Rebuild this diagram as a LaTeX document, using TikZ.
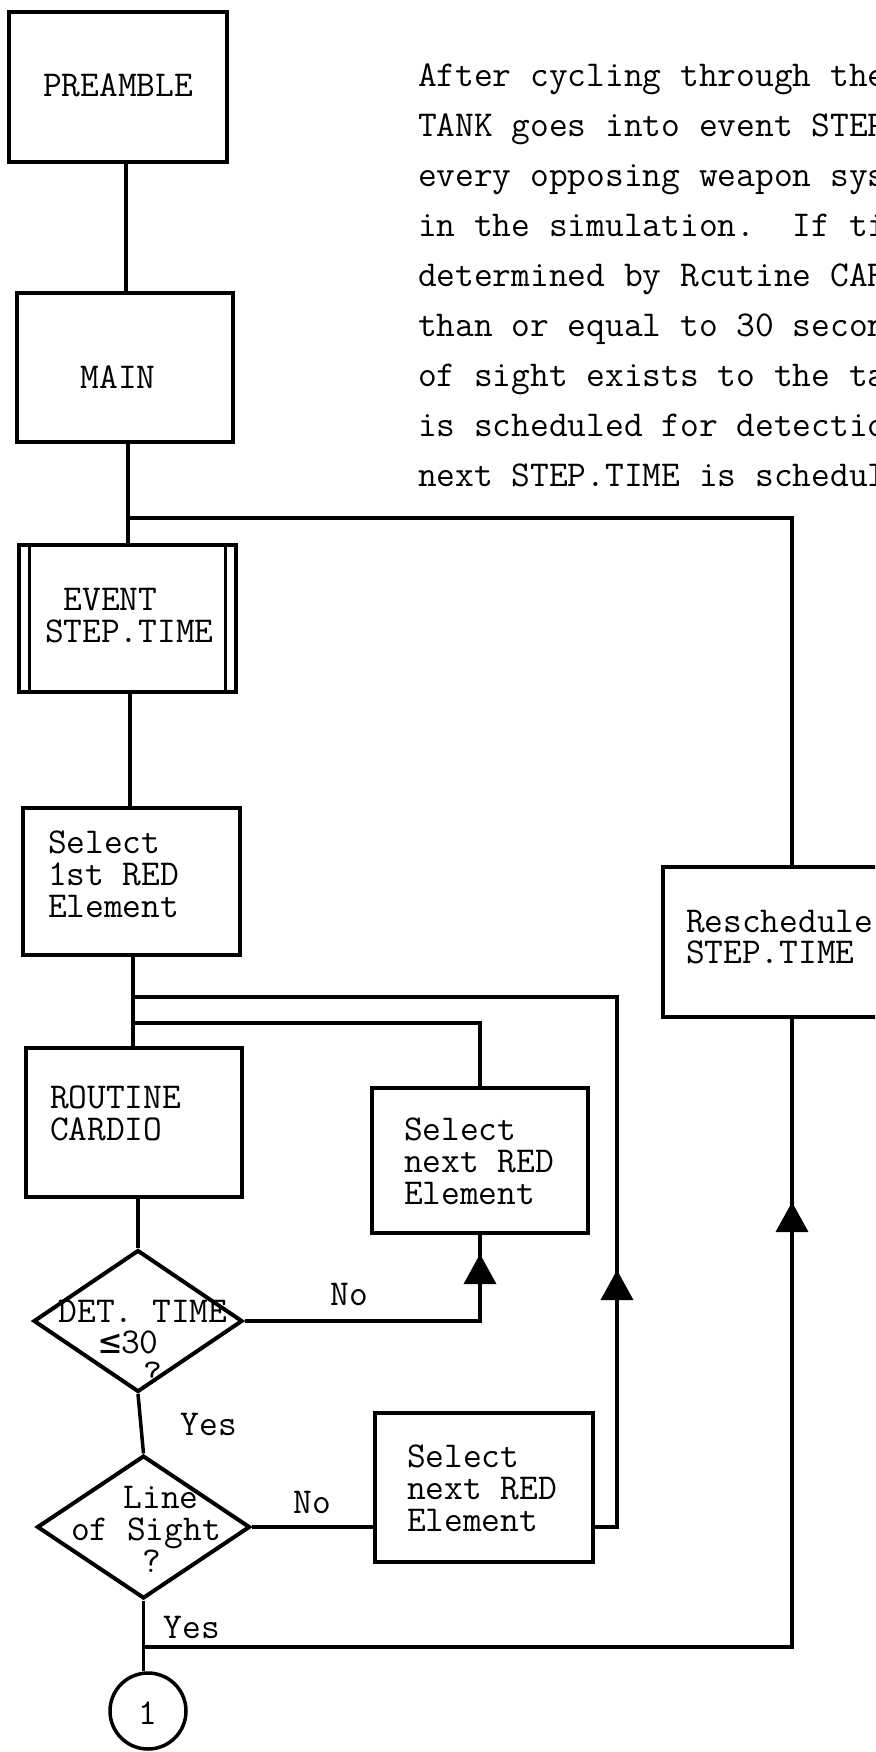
\documentclass[tikz,border=0pt]{standalone}
\usepackage{fontspec}
\newfontfamily\dvm{DejaVu Sans Mono}
\usetikzlibrary{arrows.meta,shapes.geometric,decorations.markings}
\newcommand\twfont{\fontsize{36.4}{32}\ttfamily\addfontfeature{FakeBold=3}\frenchspacing}
% text block, left aligned: #1 x offset of text start from node centre, #2 first baseline below centre, #3 baselineskip
\newcommand\txl[4]{\makebox[0pt][l]{\hspace*{#1pt}\raisebox{-#2pt}[0pt][0pt]{\vtop{\baselineskip=#3pt\lineskiplimit=-100pt\lineskip=0pt\halign{##\hfil\cr#4\crcr}}}}}
% text block, centred lines
\newcommand\txc[4]{\makebox[0pt][l]{\hspace*{#1pt}\makebox[0pt][c]{\raisebox{-#2pt}[0pt][0pt]{\vtop{\baselineskip=#3pt\lineskiplimit=-100pt\lineskip=0pt\halign{\hfil##\hfil\cr#4\crcr}}}}}}
\begin{document}
\begin{tikzpicture}[x=1pt,y=-1pt,line width=3.5pt,
  font=\twfont,
  box/.style={draw,rectangle,line width=4pt,inner sep=0pt},
  dec/.style={draw,diamond,line width=4pt,inner sep=0pt,aspect=1},
  term/.style={draw,circle,line width=3.5pt,inner sep=0pt,minimum size=76pt},
  lbl/.style={anchor=base,inner sep=0pt},
  conn/.style={line width=3.5pt},
  midarrow/.style={postaction={decorate},decoration={markings,mark=at position #1 with {\arrow{Triangle[width=32pt,length=30pt]}}}}]
\useasboundingbox (0,0) rectangle (875,1752);
\clip (0,0) rectangle (875,1752);

% paragraph
\node[inner sep=0pt] (para) at (418,87) {\txl{0}{0}{50}{After cycling through the\cr
TANK goes into event STEP\cr
every opposing weapon sys\cr
in the simulation.\ \ If ti\cr
determined by Rcutine CAR\cr
than or equal to 30 secon\cr
of sight exists to the ta\cr
is scheduled for detectio\cr
next STEP.TIME is schedul}};

% boxes
\node[box,minimum width=218pt,minimum height=150pt] (pre) at (118,87) {\txc{0}{10}{32}{PREAMBLE}};
\node[box,minimum width=216pt,minimum height=149pt] (main) at (125,367.5) {\txc{-7}{20.5}{32}{MAIN}};
\node[box,minimum width=217pt,minimum height=147pt] (ev) at (127.5,618.5) {\txl{-82.5}{-8.5}{32}{\hphantom{E}EVENT\cr STEP.TIME}};
\node[box,minimum width=217pt,minimum height=147pt] (sel1) at (131.5,881.5) {\txl{-83.5}{-28.5}{32}{Select\cr 1st RED\cr Element}};
\node[box,minimum width=216pt,minimum height=149pt] (rout) at (134,1122.5) {\txl{-84}{-14.5}{32}{ROUTINE\cr CARDIO}};
\node[dec,minimum width=209pt,minimum height=142pt] (d1) at (138,1321) {\txc{5}{1}{31}{DET. TIME\cr\hspace*{-28pt}{\dvm ≤}30\cr\hspace*{20pt}?}};
\node[dec,minimum width=213pt,minimum height=143pt] (d2) at (143.5,1527) {\txc{0}{-19}{32}{\hspace*{35pt}Line\cr\hspace*{5pt}of Sight\cr\hspace*{17pt}?}};
\node[box,minimum width=216pt,minimum height=145pt] (sn1) at (480,1160.5) {\txl{-76}{-20.5}{32}{Select\cr next RED\cr Element}};
\node[box,minimum width=218pt,minimum height=149pt] (sn2) at (484,1487.5) {\txl{-77}{-20.5}{32}{Select\cr next RED\cr Element}};
\node[box,minimum width=237pt,minimum height=150pt] (resch) at (781.5,942) {\txl{-95.5}{-10}{31}{Reschedule\cr STEP.TIME}};
\node[term] (c1) at (148,1711) {\txc{0}{13}{32}{1}};

% double side bars of the event box
\draw[line width=3pt] ([xshift=12pt]ev.north west) -- ([xshift=12pt]ev.south west);
\draw[line width=3pt] ([xshift=-13pt]ev.north east) -- ([xshift=-13pt]ev.south east);

% labels
\node[lbl] (no1) at (349,1305) {No};
\node[lbl] (yes1) at (209,1435) {Yes};
\node[lbl] (no2) at (312,1513) {No};
\node[lbl] (yes2) at (192,1638) {Yes};

% spine coordinates
\coordinate (xa) at (126,0);
\coordinate (xb) at (128,0);
\coordinate (xc) at (130,0);
\coordinate (xd) at (133,0);
\coordinate (xr) at (792,0);
\coordinate (j0) at (128,518);
\coordinate (j1) at (133,997);
\coordinate (j2) at (133,1023);
\coordinate (j3) at (144,1647);

\draw[conn] (pre.south -| xa) -- (main.north -| xa);
\draw[conn] (main.south -| xb) -- (ev.north -| xb);
\draw[conn] (ev.south -| xc) -- (sel1.north -| xc);
\draw[conn] (sel1.south -| xd) -- (rout.north -| xd);
\draw[conn] (rout.south -| d1.north) -- (d1.north);
\draw[conn] (d1.south) -- (d2.north);
\draw[conn] (d2.south) -- (d2.south |- c1.north);
\draw[conn] (resch.north -| xr) |- (j0);
\draw[conn] (sn1.north) |- (j2);
\draw[conn,midarrow=-19pt] (d1.east) -| (sn1.south);
\draw[conn] (d2.east) -- (d2.east -| sn2.west);
\draw[conn,midarrow=279pt] (d2.east -| sn2.east) -- ++(22,0) |- (j1);
\draw[conn,midarrow=-183pt] (j3) -| (resch.south -| xr);
\end{tikzpicture}
\end{document}
